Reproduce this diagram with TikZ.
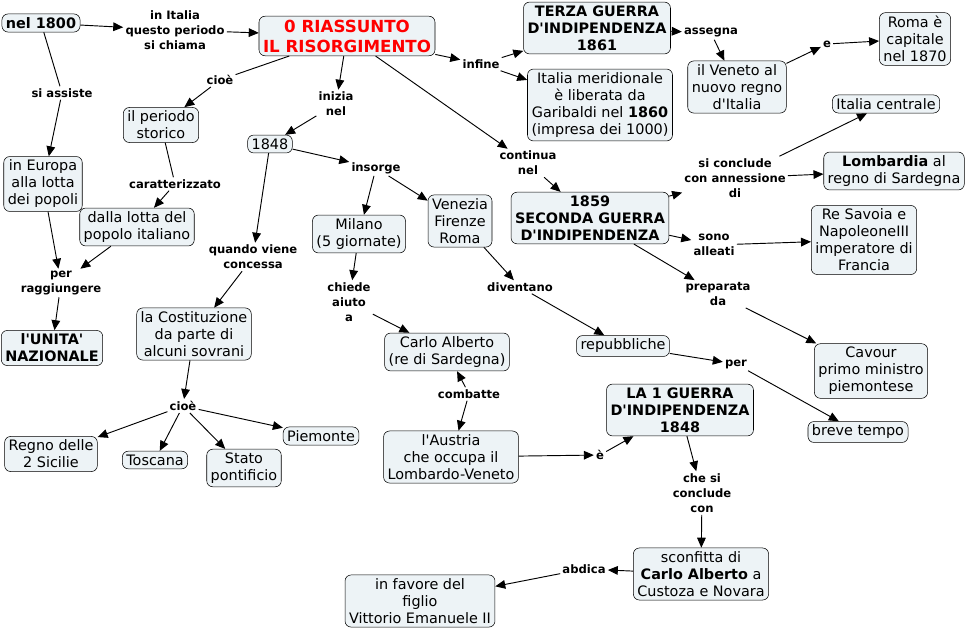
\documentclass[tikz,border=0pt]{standalone}
\usepackage{fontspec}
\setmainfont{DejaVu Sans}
\usetikzlibrary{arrows.meta}
\definecolor{cmapbg}{RGB}{237,243,246}

\begin{document}
\begin{tikzpicture}[x=0.75pt,y=-0.75pt,
  concept/.style={draw,fill=cmapbg,rounded corners=4.5pt,align=center,inner xsep=3pt,inner ysep=2.6pt,font=\fontsize{10.8}{12.75}\selectfont},
  keyconcept/.style={concept,font=\fontsize{10.8}{12.75}\selectfont\bfseries},
  title/.style={concept,text=red,font=\fontsize{12.5}{15}\selectfont\bfseries},
  phrase/.style={align=center,inner sep=1.5pt,font=\fontsize{8.7}{11.25}\selectfont\bfseries},
  link/.style={line width=0.7pt},
  arr/.style={link,-{Triangle[length=7.5pt,width=6.5pt]}}]
\useasboundingbox (0,0) rectangle (966,631);

\node[keyconcept] (n1800) at (41,23) {nel 1800};
\node[title] (riass) at (347,36) {0 RIASSUNTO\\IL RISORGIMENTO};
\node[keyconcept] (terza) at (597,28) {TERZA GUERRA\\D\textquotesingle INDIPENDENZA\\1861};
\node[concept] (merid) at (600,105) {Italia meridionale\\è liberata da\\Garibaldi nel \textbf{1860}\\(impresa dei 1000)};
\node[concept] (veneto) at (737,87) {il Veneto al\\nuovo regno\\d\textquotesingle Italia};
\node[concept] (roma) at (915,39) {Roma è\\capitale\\nel 1870};
\node[concept] (centrale) at (886,104) {Italia centrale};
\node[concept] (lombardia) at (894,171) {\textbf{Lombardia} al\\regno di Sardegna};
\node[keyconcept] (seconda) at (590,218) {1859\\SECONDA GUERRA\\D\textquotesingle INDIPENDENZA};
\node[concept] (savoia) at (864,240) {Re Savoia e\\NapoleoneIII\\imperatore di\\Francia};
\node[concept] (cavour) at (871,371) {Cavour\\primo ministro\\piemontese};
\node[concept] (breve) at (858,432) {breve tempo};
\node[concept] (repubb) at (623,346) {repubbliche};
\node[concept] (venezia) at (460,221) {Venezia\\Firenze\\Roma};
\node[concept] (milano) at (359,234) {Milano\\(5 giornate)};
\node[concept] (y1848) at (270,144) {1848};
\node[concept] (periodo) at (161,125) {il periodo\\storico};
\node[concept] (europa) at (43,184) {in Europa\\alla lotta\\dei popoli};
\node[concept] (lotta) at (137,227) {dalla lotta del\\popolo italiano};
\node[keyconcept] (unita) at (52,348) {l\textquotesingle UNITA\textquotesingle\\NAZIONALE};
\node[concept] (costit) at (194,334) {la Costituzione\\da parte di\\alcuni sovrani};
\node[concept] (sicilie) at (51,454) {Regno delle\\2 Sicilie};
\node[concept] (toscana) at (155,460) {Toscana};
\node[concept] (stato) at (244,468) {Stato\\pontificio};
\node[concept] (piemonte) at (321,436) {Piemonte};
\node[concept] (carlo) at (447,352) {Carlo Alberto\\(re di Sardegna)};
\node[concept] (austria) at (451,457) {l\textquotesingle Austria\\che occupa il\\Lombardo-Veneto};
\node[keyconcept] (guerra1) at (680,410) {LA 1 GUERRA\\D\textquotesingle INDIPENDENZA\\1848};
\node[concept] (sconfitta) at (701,574) {sconfitta di\\\textbf{Carlo Alberto} a\\Custoza e Novara};
\node[concept] (favore) at (420,601) {in favore del\\figlio\\Vittorio Emanuele II};

\node[phrase] (lItalia) at (175,30) {in Italia\\questo periodo\\si chiama};
\node[phrase] (lAssiste) at (62,93) {si assiste};
\node[phrase] (lCioe) at (220,80) {cioè};
\node[phrase] (lInizia) at (336,104) {inizia\\nel};
\node[phrase] (lInfine) at (481,64) {infine};
\node[phrase] (lAssegna) at (711,33) {assegna};
\node[phrase] (lE) at (827,44) {e};
\node[phrase] (lContinua) at (528,163) {continua\\nel};
\node[phrase] (lConclude) at (735,178) {si conclude\\con annessione\\di};
\node[phrase] (lAlleati) at (714,245) {sono\\alleati};
\node[phrase] (lPreparata) at (718,294) {preparata\\da};
\node[phrase] (lCaratt) at (175,184) {caratterizzato};
\node[phrase] (lInsorge) at (376,168) {insorge};
\node[phrase] (lQuando) at (253,257) {quando viene\\concessa};
\node[phrase] (lRaggiunge) at (61,283) {per\\raggiungere};
\node[phrase] (lChiede) at (349,302) {chiede\\aiuto\\a};
\node[phrase] (lDiventano) at (520,287) {diventano};
\node[phrase] (lPer) at (736,364) {per};
\node[phrase] (lCioe2) at (183,406) {cioè};
\node[phrase] (lCombatte) at (469,394) {combatte};
\node[phrase] (lE2) at (600,455) {è};
\node[phrase] (lConcl2) at (702,493) {che si\\conclude\\con};
\node[phrase] (lAbdica) at (584,569) {abdica};

\draw[arr] (n1800) -- (lItalia);
\draw[arr] (lItalia) -- (riass);
\draw[link] (n1800) -- (lAssiste);
\draw[arr] (lAssiste) -- (europa);
\draw[link] (riass) -- (lCioe);
\draw[arr] (lCioe) -- (periodo);
\draw[arr] (riass) -- (lInizia);
\draw[arr] (lInizia) -- (y1848);
\draw[arr] (riass) -- (lInfine);
\draw[arr] (lInfine) -- (terza);
\draw[arr] (lInfine) -- (merid);
\draw[arr] (riass) -- (lContinua);
\draw[arr] (lContinua) -- (seconda);
\draw[arr] (terza) -- (lAssegna);
\draw[arr] (lAssegna) -- (veneto);
\draw[arr] (veneto) -- (lE);
\draw[arr] (lE) -- (roma);
\draw[arr] (seconda) -- (lConclude);
\draw[arr] (lConclude) -- (centrale);
\draw[arr] (lConclude) -- (lombardia);
\draw[arr] (seconda) -- (lAlleati);
\draw[arr] (lAlleati) -- (savoia);
\draw[arr] (seconda) -- (lPreparata);
\draw[arr] (lPreparata) -- (cavour);
\draw[link] (periodo) -- (lCaratt);
\draw[arr] (lCaratt) -- (lotta);
\draw[arr] (europa) -- (lRaggiunge);
\draw[arr] (lotta) -- (lRaggiunge);
\draw[arr] (lRaggiunge) -- (unita);
\draw[arr] (y1848) -- (lInsorge);
\draw[arr] (lInsorge) -- (milano);
\draw[arr] (lInsorge) -- (venezia);
\draw[arr] (y1848) -- (lQuando);
\draw[arr] (lQuando) -- (costit);
\draw[arr] (milano) -- (lChiede);
\draw[arr] (lChiede) -- (carlo);
\draw[arr] (venezia) -- (lDiventano);
\draw[arr] (lDiventano) -- (repubb);
\draw[arr] (repubb) -- (lPer);
\draw[arr] (lPer) -- (breve);
\draw[arr] (costit) -- (lCioe2);
\draw[arr] (lCioe2) -- (sicilie);
\draw[arr] (lCioe2) -- (toscana);
\draw[arr] (lCioe2) -- (stato);
\draw[arr] (lCioe2) -- (piemonte);
\draw[arr] (lCombatte) -- (carlo);
\draw[arr] (lCombatte) -- (austria);
\draw[arr] (austria) -- (lE2);
\draw[arr] (lE2) -- (guerra1);
\draw[arr] (guerra1) -- (lConcl2);
\draw[arr] (lConcl2) -- (sconfitta);
\draw[arr] (sconfitta) -- (lAbdica);
\draw[arr] (lAbdica) -- (favore);
\end{tikzpicture}
\end{document}
